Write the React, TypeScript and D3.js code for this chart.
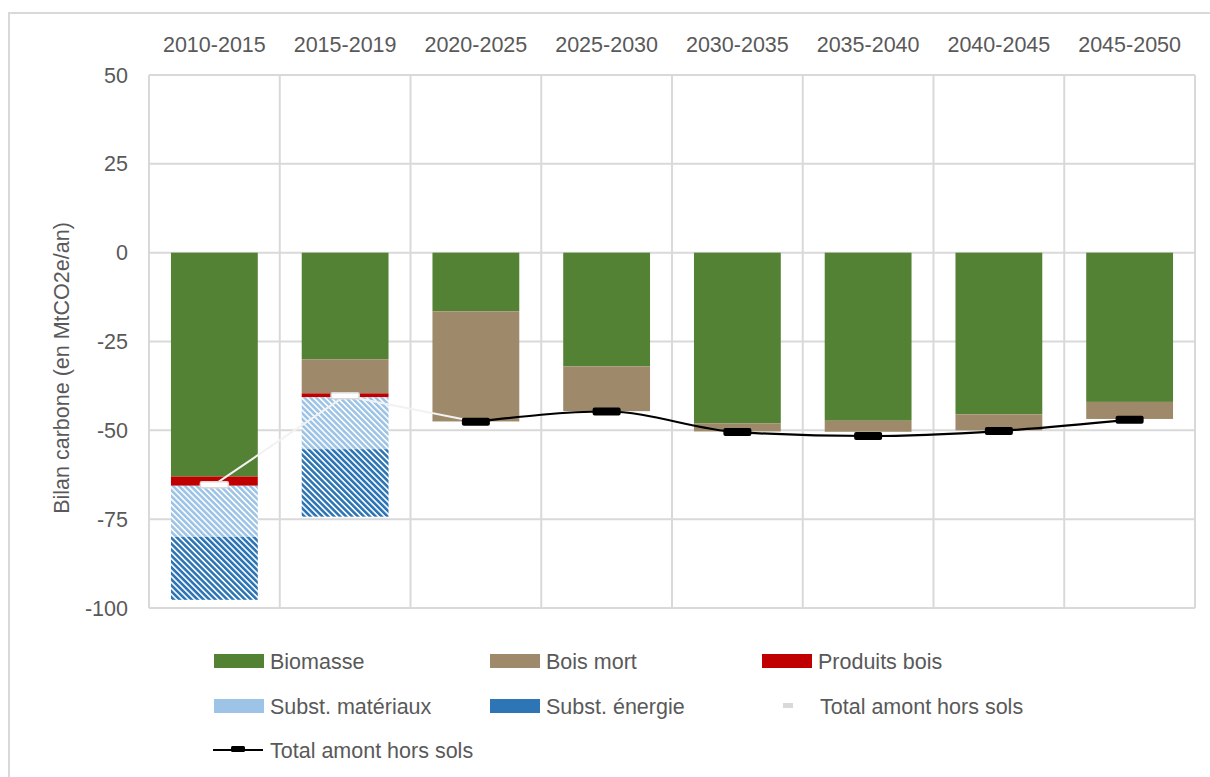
import React from 'react';
import * as d3 from 'd3';

const categories = ['2010-2015', '2015-2019', '2020-2025', '2025-2030', '2030-2035', '2035-2040', '2040-2045', '2045-2050'];
const biomasse = [-63, -30, -16.5, -32, -48, -47.3, -45.5, -42];
const boisMort = [0, -9.6, -31, -12.6, -2.3, -3.1, -4.5, -4.8];
const produitsBois = [-2.6, -1.1, 0, 0, 0, 0, 0, 0];
const substMateriaux = [-14.4, -14.6, 0, 0, 0, 0, 0, 0];
const substEnergie = [-17.7, -19, 0, 0, 0, 0, 0, 0];
const totalAmontGris: (number | null)[] = [-65.3, -40.3, -47.6, null, null, null, null, null];
const totalAmont: (number | null)[] = [null, null, -47.6, -44.7, -50.5, -51.6, -50.2, -47];
const yTicks = [50, 25, 0, -25, -50, -75, -100];

const FONT = "'Liberation Sans', Arial, sans-serif";
const TXT = '#595959';
const GRID = '#d9d9d9';

export default function App() {
  const W = 1210, H = 777;
  const left = 149, right = 1195, top = 75, bottom = 608;
  const x = d3.scaleBand<string>().domain(categories).range([left, right]).paddingInner(0.336).paddingOuter(0.168);
  const y = d3.scaleLinear().domain([-100, 50]).range([bottom, top]);
  const step = x.step();

  const series = [
    { name: 'Biomasse', vals: biomasse, fill: '#548235' },
    { name: 'Bois mort', vals: boisMort, fill: '#9E8A6A' },
    { name: 'Produits bois', vals: produitsBois, fill: '#C00000' },
    { name: 'Subst. matériaux', vals: substMateriaux, fill: 'url(#hatchLight)' },
    { name: 'Subst. énergie', vals: substEnergie, fill: 'url(#hatchDark)' },
  ];

  const rects: JSX.Element[] = [];
  categories.forEach((c, i) => {
    let acc = 0;
    series.forEach((s, si) => {
      const v = s.vals[i];
      if (!v) return;
      const y0 = y(acc), y1 = y(acc + v);
      acc += v;
      rects.push(<rect key={`${si}-${i}`} x={x(c)} y={Math.min(y0, y1)} width={x.bandwidth()} height={Math.abs(y1 - y0)} fill={s.fill} />);
    });
  });

  const cx = (c: string) => (x(c) as number) + x.bandwidth() / 2;
  const grayPts = categories.map((c, i) => [cx(c), totalAmontGris[i]] as [number, number | null]).filter(p => p[1] !== null) as [number, number][];
  const blackPts = categories.map((c, i) => [cx(c), totalAmont[i]] as [number, number | null]).filter(p => p[1] !== null) as [number, number][];
  const grayLine = d3.line<[number, number]>().x(p => p[0]).y(p => y(p[1]));
  const blackLine = d3.line<[number, number]>().x(p => p[0]).y(p => y(p[1])).curve(d3.curveMonotoneX);

  const legendRows = [
    [{ label: 'Biomasse', fill: '#548235', x: 214 }, { label: 'Bois mort', fill: '#9E8A6A', x: 490 }, { label: 'Produits bois', fill: '#C00000', x: 762 }],
    [{ label: 'Subst. matériaux', fill: '#9DC3E6', x: 214 }, { label: 'Subst. énergie', fill: '#2E75B6', x: 490 }],
  ];
  const legY = [661, 706, 750];
  const FS = 21.5;

  return (
    <svg width={W} height={H} style={{ position: 'absolute', left: 0, top: 0 }} fontFamily={FONT}>
      <defs>
        <pattern id="hatchLight" patternUnits="userSpaceOnUse" width={4.2} height={10} patternTransform="rotate(-45)">
          <rect width={4.2} height={10} fill="#ffffff" />
          <rect width={2.6} height={10} fill="#9DC3E6" />
        </pattern>
        <pattern id="hatchDark" patternUnits="userSpaceOnUse" width={4.2} height={10} patternTransform="rotate(-45)">
          <rect width={4.2} height={10} fill="#ffffff" />
          <rect width={2.6} height={10} fill="#2E75B6" />
        </pattern>
      </defs>
      <rect x={0} y={0} width={W} height={H} fill="#fff" />
      <rect x={9} y={13} width={W + 20} height={H + 20} fill="none" stroke={GRID} strokeWidth={2} />
      {yTicks.map(t => (
        <line key={`h${t}`} x1={left} x2={right} y1={y(t)} y2={y(t)} stroke={GRID} strokeWidth={2} />
      ))}
      {d3.range(categories.length + 1).map(k => (
        <line key={`v${k}`} x1={left + k * step} x2={left + k * step} y1={top} y2={bottom} stroke={GRID} strokeWidth={2} />
      ))}
      {rects}
      <path d={grayLine(grayPts) || ''} fill="none" stroke="#f2f2f2" strokeWidth={2} />
      {grayPts.slice(0, 2).map((p, i) => (
        <rect key={`gm${i}`} x={p[0] - 14} y={y(p[1]) - 3} width={28} height={6} rx={1.5} fill="#ffffff" stroke={GRID} strokeWidth={1.5} />
      ))}
      <path d={blackLine(blackPts) || ''} fill="none" stroke="#000" strokeWidth={2.2} />
      {blackPts.map((p, i) => (
        <rect key={`bm${i}`} x={p[0] - 14} y={y(p[1]) - 4} width={28} height={8} rx={2} fill="#000" />
      ))}
      {yTicks.map(t => (
        <text key={`yt${t}`} x={128} y={y(t)} dy="0.35em" textAnchor="end" fontSize={FS} fill={TXT}>{t}</text>
      ))}
      {categories.map(c => (
        <text key={`xt${c}`} x={cx(c)} y={44} dy="0.35em" textAnchor="middle" fontSize={FS} fill={TXT}>{c}</text>
      ))}
      <text transform={`translate(61,368) rotate(-90)`} dy="0.35em" textAnchor="middle" fontSize={FS} fill={TXT}>Bilan carbone (en MtCO2e/an)</text>
      {legendRows.map((row, ri) => row.map(it => (
        <g key={it.label}>
          <rect x={it.x} y={legY[ri] - 7} width={50} height={14} fill={it.fill} />
          <text x={it.x + 56} y={legY[ri]} dy="0.35em" fontSize={FS} fill={TXT}>{it.label}</text>
        </g>
      )))}
      <rect x={783} y={legY[1] - 3} width={10} height={5} fill={GRID} />
      <text x={820} y={legY[1]} dy="0.35em" fontSize={FS} fill={TXT}>Total amont hors sols</text>
      <line x1={213} x2={263} y1={legY[2]} y2={legY[2]} stroke="#000" strokeWidth={2.2} />
      <rect x={231} y={legY[2] - 4} width={14} height={6} rx={1.5} fill="#000" />
      <text x={270} y={legY[2]} dy="0.35em" fontSize={FS} fill={TXT}>Total amont hors sols</text>
    </svg>
  );
}
